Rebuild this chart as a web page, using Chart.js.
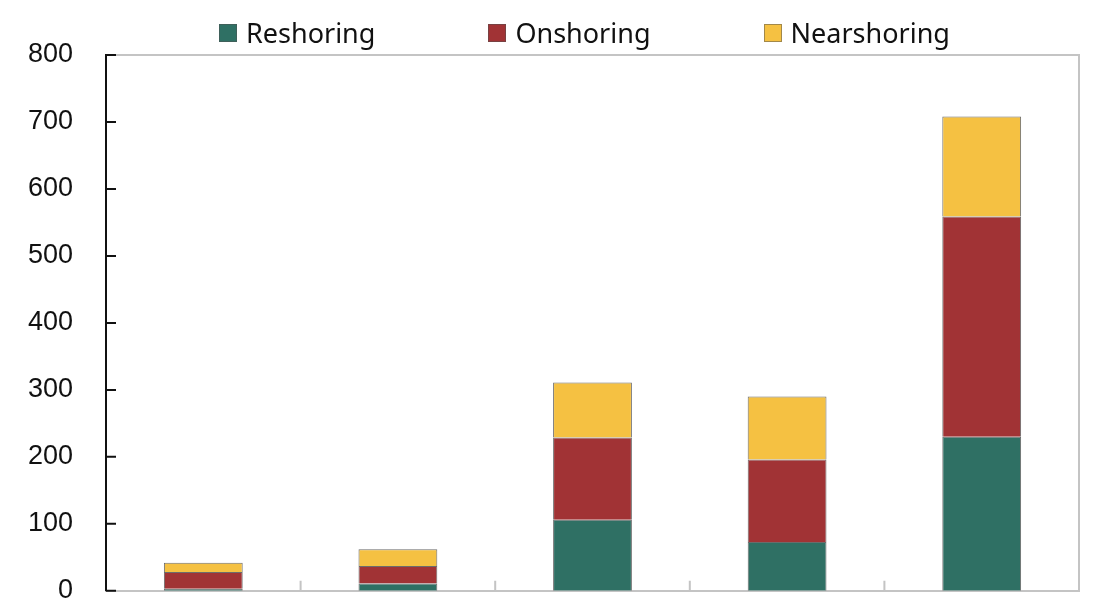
<!DOCTYPE html>
<html>
<head>
<meta charset="utf-8">
<script src="https://cdn.jsdelivr.net/npm/chart.js@4.4.1/dist/chart.umd.min.js"></script>
<style>
  html, body { margin: 0; padding: 0; overflow: hidden; background: #fff; }
  #wrap { position: relative; width: 1100px; height: 640px; }
  #legend {
    position: absolute; left: 219px; top: 14px;
    display: flex; align-items: center;
    font-family: "Noto Sans", "Open Sans", sans-serif; font-size: 27px; color: #111;
  }
  #legend .item { display: flex; align-items: center; margin-right: 113px; }
  #legend .box { width: 18px; height: 18px; margin-right: 9px; box-sizing: border-box; border: 1px solid rgba(80,80,80,0.5); }
</style>
</head>
<body>
<div id="wrap">
  <canvas id="myChart" width="1100" height="640"></canvas>
  <div id="legend"></div>
</div>
<script>
// data
var categories = ['1', '2', '3', '4', '5'];
var reshoring = [3, 11, 106, 73, 230];
var onshoring = [25, 26, 123, 123, 329];
var nearshoring = [14, 25, 82, 94, 149];
var yTicks = [0, 100, 200, 300, 400, 500, 600, 700, 800];

var seriesNames = ['Reshoring', 'Onshoring', 'Nearshoring'];
var seriesColors = ['#2f7064', '#a13335', '#f5c142'];

// small ticks drawn inside the plot, plus the grey frame on top and right
var frameTicks = {
    id: 'frameTicks',
    afterDraw: function (chart) {
        var c = chart.ctx;
        var a = chart.chartArea;
        var x = chart.scales.x, y = chart.scales.y;
        c.save();
        c.strokeStyle = '#c4c4c4';
        c.lineWidth = 2;
        c.beginPath();
        c.moveTo(a.left, a.top);
        c.lineTo(a.right, a.top);
        c.lineTo(a.right, a.bottom);
        c.stroke();

        // x ticks between categories
        c.beginPath();
        for (var i = 0; i < categories.length - 1; i++) {
            var px = (x.getPixelForValue(i) + x.getPixelForValue(i + 1)) / 2;
            c.moveTo(px, a.bottom);
            c.lineTo(px, a.bottom - 10);
        }
        c.stroke();

        // y ticks
        c.strokeStyle = '#111';
        c.beginPath();
        yTicks.forEach(function (v) {
            var py = y.getPixelForValue(v);
            c.moveTo(a.left, py);
            c.lineTo(a.left + 10, py);
        });
        c.stroke();
        c.restore();
    }
};

var ctx = document.getElementById('myChart').getContext('2d');
Chart.defaults.font.family = '"Liberation Sans", Arial, sans-serif';
Chart.defaults.color = '#111';

var allSeries = [reshoring, onshoring, nearshoring];
var datasets = allSeries.map(function (vals, i) {
    return {
        label: seriesNames[i],
        data: vals,
        backgroundColor: seriesColors[i],
        borderColor: 'rgba(45,45,45,0.7)',
        borderWidth: 1,
        categoryPercentage: 1,
        barPercentage: 0.405
    };
});

var myChart = new Chart(ctx, {
    type: 'bar',
    data: { labels: categories, datasets: datasets },
    options: {
        responsive: false,
        animation: false,
        layout: { padding: { top: 55, right: 21, bottom: 28, left: 0 } },
        plugins: {
            legend: { display: false },
            tooltip: { enabled: false }
        },
        scales: {
            x: {
                stacked: true,
                grid: { display: false },
                border: { color: '#c4c4c4', width: 2 },
                ticks: { display: false },
                afterFit: function (s) { s.height = 20; }
            },
            y: {
                stacked: true,
                min: 0,
                max: 800,
                grid: { display: false, drawTicks: false },
                border: { color: '#111', width: 2 },
                ticks: { stepSize: 100, padding: 33, font: { size: 27 }, color: '#111' },
                afterFit: function (s) { s.width = 106; }
            }
        }
    },
    plugins: [frameTicks]
});

// html legend
var legend = document.getElementById('legend');
seriesNames.forEach(function (name, i) {
    var item = document.createElement('div');
    item.className = 'item';
    var box = document.createElement('span');
    box.className = 'box';
    box.style.background = seriesColors[i];
    var txt = document.createElement('span');
    txt.textContent = name;
    item.appendChild(box);
    item.appendChild(txt);
    legend.appendChild(item);
});
</script>
</body>
</html>
